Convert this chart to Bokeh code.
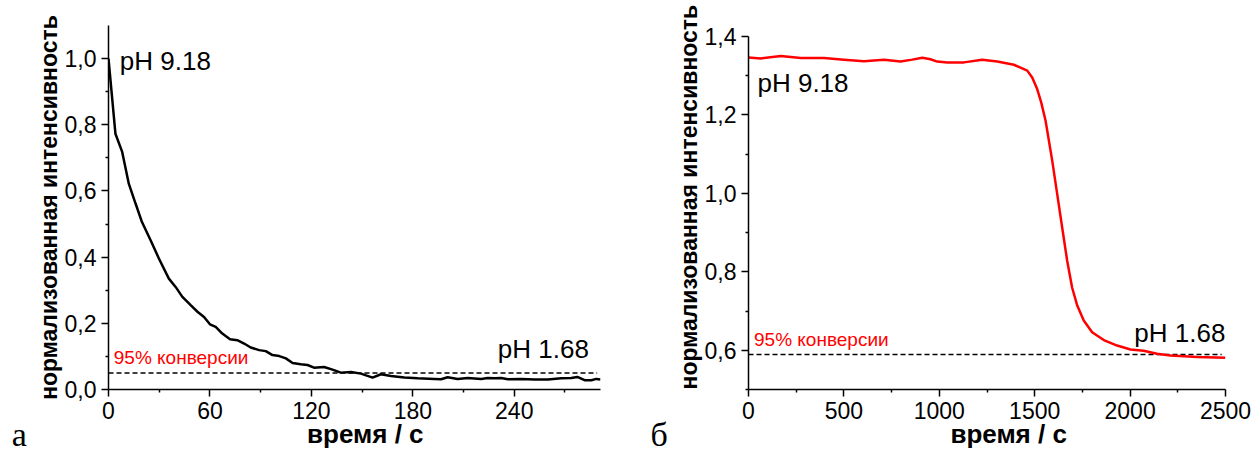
import math
from bokeh.plotting import figure
from bokeh.layouts import row
from bokeh.models import (Range1d, FixedTicker, CustomJSTickFormatter, Label,
                          LinearAxis, Title)
from bokeh.embed import file_html
from bokeh.resources import INLINE

# ---------------- data ----------------
# panel a: pH 9.18 -> pH 1.68 (time in s, normalized intensity)
t_a = [0, 4.1, 8.1, 12.0, 16.0, 19.8, 24.9, 29.8, 35.7, 39.7,
       43.7, 48.6, 52.6, 56.5, 60.0, 63.4, 67.3, 71.9, 76.2, 80.2,
       84.1, 89.1, 93.0, 97.0, 101.0, 104.9, 108.9, 113.7, 117.7, 121.6,
       127.5, 132.5, 137.4, 143.4, 149.3, 156.2, 161.1, 167.1, 175.0, 182.9,
       192.7, 196.7, 200.6, 206.5, 212.5, 220.4, 224.3, 228.3, 232.2, 236.2,
       244.1, 252.0, 259.9, 267.8, 273.7, 277.3, 281.6, 285.6, 288.5, 291.0]
v_a = [1.0, 0.773, 0.718, 0.622, 0.562, 0.506, 0.451, 0.396, 0.335, 0.310,
       0.280, 0.255, 0.235, 0.219, 0.197, 0.189, 0.169, 0.152, 0.149, 0.139,
       0.127, 0.119, 0.116, 0.104, 0.101, 0.094, 0.080, 0.076, 0.074, 0.066,
       0.068, 0.060, 0.051, 0.053, 0.048, 0.036, 0.046, 0.041, 0.036, 0.034,
       0.032, 0.031, 0.037, 0.032, 0.035, 0.032, 0.035, 0.034, 0.035, 0.031,
       0.032, 0.030, 0.030, 0.034, 0.035, 0.038, 0.028, 0.028, 0.032, 0.030]
conv_a = 0.05

# panel b
t_b = [0, 64, 169, 274, 396, 500, 605, 710, 797, 858,
       911, 954, 989, 1042, 1129, 1225, 1304, 1391, 1461, 1487,
       1513, 1534, 1557, 1592, 1618, 1644, 1670, 1696, 1723, 1757,
       1801, 1862, 1932, 2002, 2071, 2141, 2211, 2351, 2499]
v_b = [1.3465, 1.344, 1.350, 1.345, 1.345, 1.341, 1.337, 1.341, 1.336, 1.341,
       1.346, 1.342, 1.336, 1.334, 1.334, 1.341, 1.336, 1.328, 1.313, 1.2956,
       1.266, 1.232, 1.185, 1.083, 0.998, 0.913, 0.829, 0.760, 0.714, 0.676,
       0.646, 0.626, 0.612, 0.602, 0.599, 0.591, 0.5865, 0.583, 0.581]
conv_b = 0.589

xticks_a = [0, 60, 120, 180, 240]
xminor_a = [30, 90, 150, 210, 270]
yticks_a = [0.0, 0.2, 0.4, 0.6, 0.8, 1.0]
yminor_a = [0.1, 0.3, 0.5, 0.7, 0.9]
xticks_b = [0, 500, 1000, 1500, 2000, 2500]
xminor_b = [250, 750, 1250, 1750, 2250]
yticks_b = [0.6, 0.8, 1.0, 1.2, 1.4]
yminor_b = [0.5, 0.7, 0.9, 1.1, 1.3]

YTITLE = "нормализованная интенсивность"
XTITLE = "время / с"
PANEL_A = "а"
PANEL_B = "б"
SANS = "Liberation Sans"
SERIF = "Liberation Serif"
TICK_FS = "23px"
YTITLE_FS = "23px"
XTITLE_FS = "26px"
NBSP = "\u00a0"


def style(p, xt, xm, yt, ym):
    p.xgrid.visible = False
    p.ygrid.visible = False
    p.outline_line_color = None
    p.background_fill_color = "white"
    p.border_fill_color = "white"
    p.xaxis.ticker = FixedTicker(ticks=xt, minor_ticks=xm)
    p.yaxis.ticker = FixedTicker(ticks=yt, minor_ticks=ym)
    p.yaxis.formatter = CustomJSTickFormatter(code="return tick.toFixed(1).replace('.', ',');")
    for ax in (p.xaxis[0], p.yaxis[0]):
        ax.axis_line_color = "black"
        ax.axis_line_width = 1.5
        ax.major_tick_line_color = "black"
        ax.major_tick_line_width = 1.5
        ax.minor_tick_line_color = "black"
        ax.minor_tick_line_width = 1.5
        ax.major_tick_in = 0
        ax.major_tick_out = 7
        ax.minor_tick_in = 0
        ax.minor_tick_out = 3
        ax.major_label_text_font = SANS
        ax.major_label_text_font_size = TICK_FS
        ax.major_label_text_color = "black"
        ax.major_label_standoff = 5


def add_text(p, text, x, y, size, color="black"):
    p.add_layout(Label(x=x, y=y, y_offset=8, text=text, text_font=SANS,
                       text_font_size=size, text_color=color,
                       text_align="left", text_baseline="alphabetic"))


def add_bottom_band(p, letter, pad_letter, pad_title):
    # an unlined axis carrying the panel letter (as a tick label) and the x title
    ax = LinearAxis(ticker=FixedTicker(ticks=[0]),
                    major_label_overrides={0: letter + NBSP * pad_letter})
    ax.axis_line_color = None
    ax.major_tick_line_color = None
    ax.minor_tick_line_color = None
    ax.major_tick_in = 0
    ax.major_tick_out = 0
    ax.minor_tick_in = 0
    ax.minor_tick_out = 0
    ax.major_label_text_font = SERIF
    ax.major_label_text_font_size = "34px"
    ax.major_label_text_color = "black"
    ax.major_label_standoff = -6
    ax.axis_label = NBSP * pad_title + XTITLE
    ax.axis_label_text_font = SANS
    ax.axis_label_text_font_size = XTITLE_FS
    ax.axis_label_text_font_style = "bold"
    ax.axis_label_text_color = "black"
    ax.axis_label_standoff = -37
    p.add_layout(ax, "below")


# ---------------- panel a ----------------
pa = figure(width=620, height=452, output_backend="svg", toolbar_location=None,
            x_range=Range1d(0, 291), y_range=Range1d(0, 1.1),
            min_border_left=108, min_border_right=20, min_border_top=25,
            min_border_bottom=63, frame_align=False)
style(pa, xticks_a, xminor_a, yticks_a, yminor_a)
pa.line(x=[0, 289], y=[conv_a, conv_a], line_color="black", line_width=1.5, line_dash="5 3")
pa.line(x=t_a, y=v_a, line_color="black", line_width=2.5)
add_text(pa, "pH 9.18", 6.7, 0.970, "26px")
add_text(pa, "pH 1.68", 230.3, 0.0985, "26px")
add_text(pa, "95% конверсии", 3.1, 0.0734, "19px", color="#ff0000")
pa.add_layout(Title(text=YTITLE, align="center", text_font=SANS, text_font_size=YTITLE_FS,
                    text_font_style="bold", text_color="black", standoff=0), "left")
add_bottom_band(pa, PANEL_A, 21, 3)

# ---------------- panel b ----------------
pb = figure(width=634, height=452, output_backend="svg", toolbar_location=None,
            x_range=Range1d(0, 2500), y_range=Range1d(0.5, 1.4),
            min_border_left=128, min_border_right=29, min_border_top=36,
            min_border_bottom=63, frame_align=False)
style(pb, xticks_b, xminor_b, yticks_b, yminor_b)
pb.line(x=[0, 2480], y=[conv_b, conv_b], line_color="black", line_width=1.5, line_dash="5 3")
pb.line(x=t_b, y=v_b, line_color="#ff0000", line_width=2.5)
add_text(pb, "pH 9.18", 47, 1.2617, "26px")
add_text(pb, "pH 1.68", 2022, 0.6247, "26px")
add_text(pb, "95% конверсии", 29, 0.6076, "19px", color="#ff0000")
pb.add_layout(Title(text=YTITLE, align="left", text_font=SANS, text_font_size=YTITLE_FS,
                    text_font_style="bold", text_color="black", standoff=0), "left")
add_bottom_band(pb, PANEL_B, 21, 6)

layout = row(pa, pb)
open("out.html", "w").write(file_html(layout, INLINE))
